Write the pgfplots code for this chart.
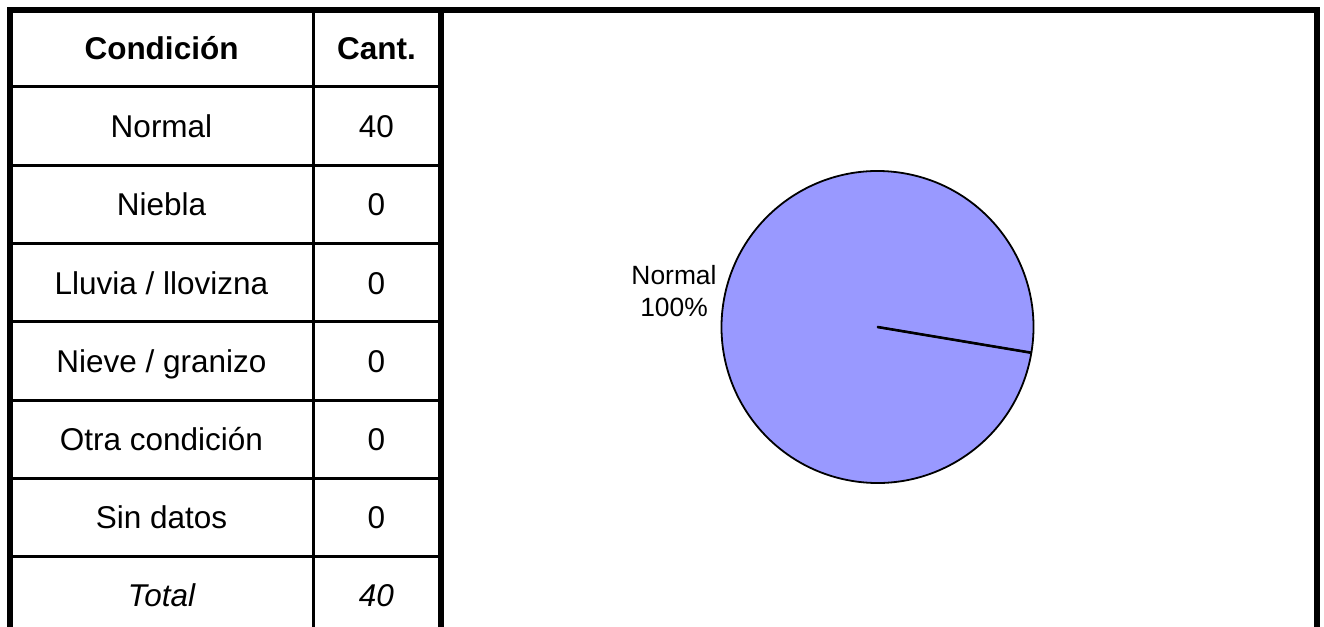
\documentclass[border=0pt]{standalone}
\usepackage{fontspec}
\setmainfont{Liberation Sans}
\usepackage{pgfplots}
\usepackage{pgfplotstable}
\pgfplotsset{compat=1.18}
\definecolor{piefill}{RGB}{153,153,255}

\pgfplotstableread[col sep=comma]{
cond,cant
Normal,40
Niebla,0
Lluvia / llovizna,0
Nieve / granizo,0
Otra condición,0
Sin datos,0
}\condtable

\begin{document}
\begin{tikzpicture}
\useasboundingbox (0,0) rectangle (662pt,313.5pt);

% total and share of the only non-empty slice
\pgfplotstablegetrowsof{\condtable}
\pgfmathtruncatemacro\nrows{\pgfplotsretval-1}
\gdef\total{0}
\foreach \i in {0,...,\nrows}{
  \pgfplotstablegetelem{\i}{cant}\of\condtable
  \pgfmathtruncatemacro\tmp{\total+\pgfplotsretval}
  \xdef\total{\tmp}
}
\pgfplotstablegetelem{0}{cant}\of\condtable
\let\normalval\pgfplotsretval
\pgfmathsetmacro\startang{-9.5}
\pgfmathsetmacro\endang{\startang-360*\normalval/\total}
\pgfmathtruncatemacro\pct{round(100*\normalval/\total)}

\begin{axis}[
  x=0.5pt, y=0.5pt, y dir=reverse,
  xmin=0, xmax=1324, ymin=0, ymax=627,
  hide axis, at={(0,0)}, anchor=south west, clip=false,
]
\filldraw[fill=piefill, draw=black, line width=0.9pt, line join=round]
  (axis cs:877.5,327) -- ++(\startang:78pt)
  arc[start angle=\startang, end angle=\endang, radius=78pt] -- cycle;
\draw[line width=1.3pt] (axis cs:877.5,327) -- ++(\startang:78pt);
\node[align=center, font=\fontsize{13.2}{16}\selectfont]
  at (axis cs:674,291) {Normal\\\pct\%};
\end{axis}

% table on the left
\begin{scope}[x=0.5pt, y=-0.5pt, shift={(0pt,313.5pt)},
  every node/.style={anchor=base, inner sep=0pt, font=\fontsize{15.75}{19}\selectfont}]
  \foreach \yy in {87,165.3,243.7,322,400.3,478.7,557}
    \draw[line width=1.5pt] (10,\yy) -- (441,\yy);
  \draw[line width=1.5pt] (313,10) -- (313,627);
  \draw[line width=2.6pt] (441,10) -- (441,627);
  \draw[line width=3pt, line join=miter] (10,627) -- (10,10) -- (1317,10) -- (1317,627);
  \node at (161.5,60) {\bfseries Condición};
  \node at (376.5,60) {\bfseries Cant.};
  \foreach \i in {0,...,5}{
    \pgfplotstablegetelem{\i}{cond}\of\condtable
    \node at (161.5,{137.5+78.3*\i}) {\pgfplotsretval};
    \pgfplotstablegetelem{\i}{cant}\of\condtable
    \node at (376.5,{137.5+78.3*\i}) {\pgfplotsretval};
  }
  \node at (161.5,607) {\itshape Total};
  \node at (376.5,607) {\itshape\total};
\end{scope}
\end{tikzpicture}
\end{document}
